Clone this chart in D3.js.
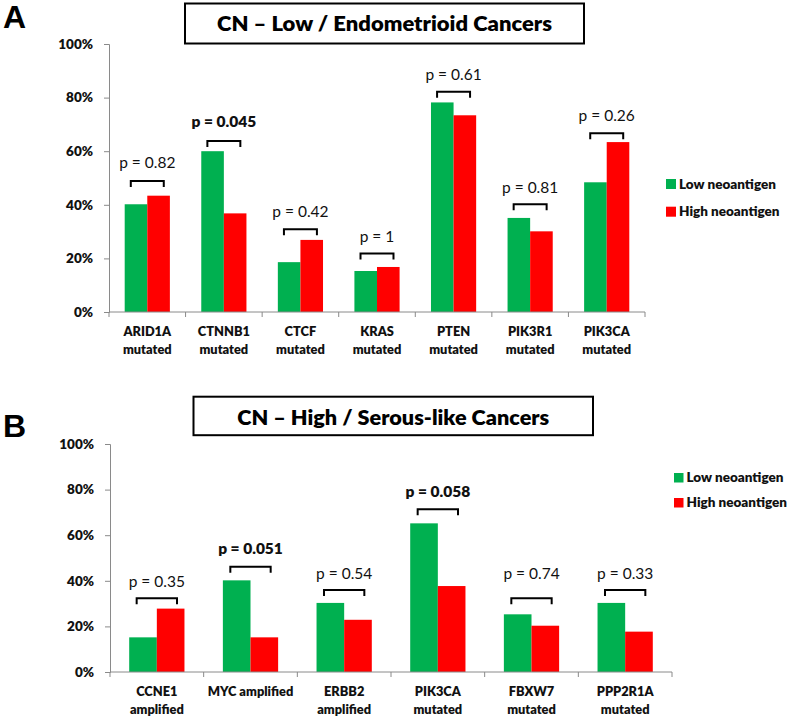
<!DOCTYPE html>
<html>
<head>
<meta charset="utf-8">
<script src="https://cdn.jsdelivr.net/npm/d3@7"></script>
<style>
  html, body { margin: 0; padding: 0; background: #fff; }
  svg { display: block; }
</style>
</head>
<body>
<svg id="chart" width="790" height="719"></svg>
<script>
// ---------- DATA ----------
const seriesNames = ["Low neoantigen", "High neoantigen"];
const tickValues = [0, 20, 40, 60, 80, 100];

// Panel A
const titleA = "CN \u2013 Low / Endometrioid Cancers";
const categoriesA = [["ARID1A", "mutated"], ["CTNNB1", "mutated"], ["CTCF", "mutated"], ["KRAS", "mutated"], ["PTEN", "mutated"], ["PIK3R1", "mutated"], ["PIK3CA", "mutated"]];
const lowA  = [40.2, 60.0, 18.6, 15.3, 78.2, 35.1, 48.4];
const highA = [43.4, 36.8, 26.9, 16.8, 73.4, 30.1, 63.4];
const pTextA = ["p = 0.82", "p = 0.045", "p = 0.42", "p = 1", "p = 0.61", "p = 0.81", "p = 0.26"];
const pBoldA = [false, true, false, false, false, false, false];
const bracketLevelA = [48.9, 63.8, 30.9, 21.8, 82.2, 40.2, 66.7];
const pLabelLevelA = [53.7, 69.0, 35.4, 26.2, 86.6, 44.4, 71.3];

// Panel B
const titleB = "CN \u2013 High / Serous-like Cancers";
const categoriesB = [["CCNE1", "amplified"], ["MYC amplified"], ["ERBB2", "amplified"], ["PIK3CA", "mutated"], ["FBXW7", "mutated"], ["PPP2R1A", "mutated"]];
const lowB  = [15.2, 40.2, 30.3, 65.2, 25.3, 30.3];
const highB = [27.8, 15.2, 22.9, 37.7, 20.3, 17.7];
const pTextB = ["p = 0.35", "p = 0.051", "p = 0.54", "p = 0.058", "p = 0.74", "p = 0.33"];
const pBoldB = [false, true, false, true, false, false];
const bracketLevelB = [32.3, 46.2, 36.0, 71.4, 32.3, 36.0];
const pLabelLevelB = [37.4, 51.6, 40.8, 76.6, 40.9, 40.8];

// ---------- STYLE ----------
const colors = ["#00B050", "#FF0000"];
const axisColor = "#8a8a8a";
const FONT = "Lato, 'Open Sans', sans-serif";
const HEAVY = 800;

const svg = d3.select("#chart");

function drawPanel(cfg) {
  const g = svg.append("g");
  const cats = cfg.categories.map(c => c.join(" "));
  const x = d3.scaleBand().domain(cats).range([cfg.x0, cfg.x1]).paddingInner(0.41).paddingOuter(0.205);
  const xs = d3.scaleBand().domain(seriesNames).range([0, x.bandwidth()]);
  const y = d3.scaleLinear().domain([0, 100]).range([cfg.yBottom, cfg.yTop]);

  // Panel letter
  g.append("text").attr("x", cfg.letterX).attr("y", cfg.letterY)
    .attr("font-family", "'Liberation Sans', Arial, sans-serif").attr("font-weight", "bold")
    .attr("font-size", 32).attr("fill", "#000").text(cfg.letter);

  // Title box
  g.append("rect").attr("x", cfg.box[0]).attr("y", cfg.box[1])
    .attr("width", cfg.box[2]).attr("height", cfg.box[3])
    .attr("fill", "#fff").attr("stroke", "#000").attr("stroke-width", 2);
  g.append("text").attr("x", cfg.box[0] + cfg.box[2] / 2).attr("y", cfg.titleBaseline)
    .attr("text-anchor", "middle").attr("font-family", FONT).attr("font-weight", HEAVY)
    .attr("font-size", 20).attr("fill", "#000")
    .attr("textLength", cfg.titleWidth).attr("lengthAdjust", "spacingAndGlyphs")
    .text(cfg.title);

  // Y axis
  const yAxis = d3.axisLeft(y).tickValues(tickValues).tickFormat(d => d + "%").tickSizeOuter(0).tickSize(5).tickPadding(11);
  const ya = g.append("g").attr("transform", `translate(${cfg.x0},0)`).call(yAxis);
  ya.select(".domain").attr("stroke", axisColor);
  ya.selectAll(".tick line").attr("stroke", axisColor);
  ya.selectAll(".tick text").attr("font-family", FONT).attr("font-weight", HEAVY)
    .attr("font-size", 13.5).attr("fill", "#111");

  // Bars
  const data = cats.map((c, i) => ({ cat: c, vals: [cfg.low[i], cfg.high[i]] }));
  const grp = g.selectAll(".grp").data(data).join("g")
    .attr("transform", d => `translate(${x(d.cat)},0)`);
  grp.selectAll("rect").data(d => d.vals.map((v, j) => ({ v, s: seriesNames[j], j })))
    .join("rect")
    .attr("x", d => xs(d.s)).attr("width", xs.bandwidth())
    .attr("y", d => y(d.v)).attr("height", d => y(0) - y(d.v))
    .attr("fill", d => colors[d.j]);

  // X axis line and boundary ticks
  g.append("line").attr("x1", cfg.x0).attr("x2", cfg.x1).attr("y1", y(0)).attr("y2", y(0))
    .attr("stroke", axisColor);
  const step = x.step();
  const bounds = d3.range(cats.length + 1).map(i => cfg.x0 + i * step);
  g.selectAll(".xt").data(bounds).join("line")
    .attr("x1", d => d).attr("x2", d => d).attr("y1", y(0)).attr("y2", y(0) + 5)
    .attr("stroke", axisColor);

  // Category labels
  cfg.categories.forEach((lines, i) => {
    const cx = x(cats[i]) + x.bandwidth() / 2;
    lines.forEach((ln, k) => {
      g.append("text").attr("x", cx).attr("y", y(0) + 24 + k * 17.5)
        .attr("text-anchor", "middle").attr("font-family", FONT).attr("font-weight", HEAVY)
        .attr("font-size", 12.8).attr("fill", "#111").text(ln);
    });
  });

  // Brackets and p labels
  data.forEach((d, i) => {
    const cx = x(d.cat) + x.bandwidth() / 2;
    const hw = x.bandwidth() * 0.365;
    const by = y(cfg.bracketLevel[i]);
    g.append("path")
      .attr("d", `M${cx - hw},${by + 6}V${by}H${cx + hw}V${by + 6}`)
      .attr("fill", "none").attr("stroke", "#000").attr("stroke-width", 2);
    g.append("text").attr("x", cx).attr("y", y(cfg.pLabelLevel[i]))
      .attr("text-anchor", "middle").attr("font-family", FONT)
      .attr("font-weight", cfg.pBold[i] ? HEAVY : "normal")
      .attr("font-size", 15.5).attr("fill", "#111").text(cfg.pText[i]);
  });

  // Legend
  seriesNames.forEach((s, j) => {
    const ly = cfg.legend[1] + j * cfg.legend[3];
    g.append("rect").attr("x", cfg.legend[0]).attr("y", ly)
      .attr("width", cfg.legend[2]).attr("height", cfg.legend[2]).attr("fill", colors[j]);
    g.append("text").attr("x", cfg.legend[0] + cfg.legend[2] + 3).attr("y", ly + cfg.legend[2] - 0.5)
      .attr("font-family", FONT).attr("font-weight", HEAVY).attr("font-size", 13.5)
      .attr("fill", "#111").text(s);
  });
}

drawPanel({
  letter: "A", letterX: 3, letterY: 28,
  title: titleA, box: [185, 3.5, 399, 40], titleBaseline: 30.5, titleWidth: 335,
  categories: categoriesA, low: lowA, high: highA,
  pText: pTextA, pBold: pBoldA, bracketLevel: bracketLevelA, pLabelLevel: pLabelLevelA,
  x0: 109, x1: 645, yTop: 44, yBottom: 312,
  legend: [666, 179, 10, 27.7]
});

drawPanel({
  letter: "B", letterX: 3, letterY: 436.5,
  title: titleB, box: [193.5, 396.7, 399.5, 38.5], titleBaseline: 425, titleWidth: 312,
  categories: categoriesB, low: lowB, high: highB,
  pText: pTextB, pBold: pBoldB, bracketLevel: bracketLevelB, pLabelLevel: pLabelLevelB,
  x0: 110, x1: 672, yTop: 444, yBottom: 672,
  legend: [674, 473, 9.5, 25]
});
</script>
</body>
</html>
